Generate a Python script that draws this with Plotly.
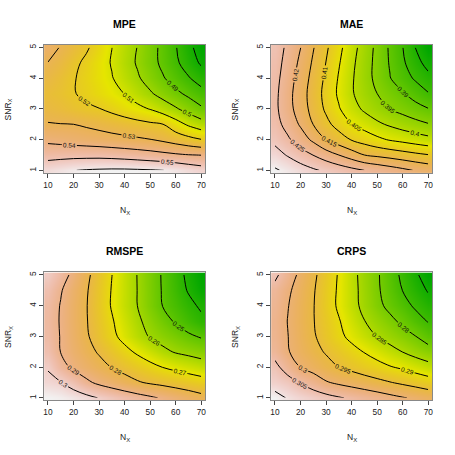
import colorsys
import numpy as np
import plotly.graph_objects as go

# ---------------- data ----------------
N_X = [10, 15, 20, 25, 30, 35, 40, 45, 50, 55, 60, 65, 70]
SNR_X = [1.0, 1.5, 2.0, 2.5, 3.0, 3.5, 4.0, 4.5, 5.0]
X_TICKS = [10, 20, 30, 40, 50, 60, 70]
Y_TICKS = [1, 2, 3, 4, 5]

MPE = [
    [.5565, .5582, .5598, .5606, .5611, .5614, .5614, .5611, .5607, .5601, .5585, .5563, .5543],
    [.5464, .5467, .5470, .5471, .5471, .5466, .5458, .5448, .5437, .5425, .5413, .5403, .5398],
    [.5378, .5369, .5359, .5350, .5341, .5331, .5322, .5313, .5303, .5283, .5257, .5230, .5203],
    [.5305, .5302, .5300, .5287, .5273, .5258, .5244, .5229, .5215, .5201, .5141, .5085, .5042],
    [.5265, .5250, .5232, .5215, .5203, .5178, .5151, .5124, .5096, .5053, .5011, .4964, .4915],
    [.5245, .5228, .5205, .5181, .5154, .5126, .5098, .5054, .5011, .4966, .4922, .4879, .4835],
    [.5270, .5238, .5207, .5173, .5139, .5105, .5059, .5012, .4961, .4908, .4858, .4808, .4755],
    [.5298, .5262, .5222, .5181, .5138, .5094, .5043, .4991, .4936, .4879, .4818, .4753, .4686],
    [.5340, .5294, .5254, .5213, .5160, .5101, .5050, .4998, .4938, .4875, .4806, .4729, .4652],
]
MAE = [
    [.4356, .4340, .4323, .4307, .4292, .4278, .4264, .4250, .4237, .4224, .4211, .4197, .4185],
    [.4320, .4296, .4272, .4249, .4224, .4200, .4175, .4150, .4140, .4131, .4121, .4111, .4102],
    [.4287, .4258, .4225, .4190, .4150, .4123, .4097, .4079, .4061, .4046, .4036, .4025, .4015],
    [.4269, .4232, .4194, .4149, .4113, .4081, .4051, .4030, .4009, .3993, .3978, .3965, .3953],
    [.4261, .4219, .4176, .4133, .4092, .4054, .4020, .3992, .3971, .3950, .3934, .3918, .3902],
    [.4262, .4217, .4173, .4128, .4085, .4042, .4005, .3977, .3950, .3927, .3904, .3879, .3853],
    [.4266, .4224, .4180, .4134, .4091, .4046, .4006, .3971, .3937, .3902, .3872, .3843, .3815],
    [.4271, .4232, .4190, .4143, .4099, .4054, .4011, .3973, .3936, .3896, .3858, .3819, .3781],
    [.4278, .4239, .4201, .4153, .4108, .4063, .4019, .3978, .3938, .3893, .3851, .3799, .3750],
]
RMSPE = [
    [.3060, .3052, .3040, .3022, .2997, .2975, .2954, .2933, .2913, .2891, .2869, .2847, .2825],
    [.3015, .3003, .2965, .2916, .2883, .2858, .2833, .2808, .2790, .2777, .2763, .2750, .2736],
    [.2995, .2930, .2884, .2855, .2826, .2797, .2772, .2747, .2723, .2698, .2680, .2663, .2645],
    [.2960, .2898, .2862, .2826, .2792, .2757, .2722, .2688, .2654, .2619, .2593, .2578, .2562],
    [.2945, .2896, .2853, .2810, .2765, .2719, .2675, .2632, .2594, .2567, .2540, .2514, .2492],
    [.2938, .2894, .2850, .2805, .2756, .2707, .2661, .2615, .2572, .2530, .2490, .2454, .2418],
    [.2943, .2896, .2850, .2804, .2749, .2694, .2647, .2600, .2548, .2497, .2460, .2422, .2387],
    [.2960, .2906, .2857, .2808, .2752, .2696, .2648, .2599, .2546, .2493, .2443, .2393, .2343],
    [.2990, .2938, .2879, .2819, .2760, .2701, .2649, .2598, .2545, .2491, .2436, .2380, .2326],
]
CRPS = [
    [.3115, .3097, .3086, .3076, .3065, .3054, .3044, .3034, .3024, .3013, .3003, .2994, .2983],
    [.3080, .3068, .3047, .3026, .3004, .2992, .2982, .2972, .2962, .2952, .2942, .2932, .2922],
    [.3062, .3030, .2999, .2983, .2966, .2950, .2938, .2926, .2915, .2903, .2893, .2880, .2867],
    [.3035, .3003, .2983, .2964, .2946, .2930, .2914, .2898, .2882, .2865, .2849, .2833, .2819],
    [.3027, .3001, .2978, .2955, .2932, .2910, .2889, .2869, .2849, .2833, .2817, .2801, .2778],
    [.3025, .2999, .2976, .2952, .2928, .2903, .2877, .2851, .2831, .2811, .2790, .2768, .2747],
    [.3030, .3002, .2977, .2952, .2923, .2893, .2866, .2838, .2812, .2788, .2766, .2743, .2720],
    [.3036, .3008, .2981, .2954, .2924, .2894, .2865, .2836, .2807, .2778, .2749, .2723, .2696],
    [.3060, .3025, .2989, .2959, .2928, .2896, .2864, .2834, .2806, .2773, .2740, .2708, .2676],
]

# contour levels (start, end, step) as labelled in the reference
LEVELS = {
    "MPE": (0.47, 0.56, 0.01),
    "MAE": (0.38, 0.435, 0.005),
    "RMSPE": (0.24, 0.30, 0.01),
    "CRPS": (0.27, 0.31, 0.005),
}

# ---------------- colours: R terrain.colors ----------------
def terrain_scale(n=64):
    k = n // 2
    h = np.concatenate([np.linspace(4 / 12, 2 / 12, k), np.linspace(2 / 12, 0, n - k + 1)[1:]])
    s = np.concatenate([np.linspace(1, 1, k), np.linspace(1, 0, n - k + 1)[1:]])
    v = np.concatenate([np.linspace(0.65, 0.9, k), np.linspace(0.9, 0.95, n - k + 1)[1:]])
    out = []
    for i in range(n):
        r, g, b = colorsys.hsv_to_rgb(h[i], s[i], v[i])
        out.append([i / (n - 1), f"rgb({round(r*255)},{round(g*255)},{round(b*255)})"])
    return out

CS = terrain_scale()
FONT = "Liberation Sans, Arial, Helvetica, sans-serif"
W = H = 455

# pixel geometry of plot regions (left, right, top, bottom)
boxes = [
    (43.3, 205.0, 44.0, 172.3),
    (271.3, 433.0, 44.0, 172.3),
    (43.3, 205.0, 272.0, 400.3),
    (271.3, 433.0, 272.0, 400.3),
]
panels = [("MPE", MPE), ("MAE", MAE), ("RMSPE", RMSPE), ("CRPS", CRPS)]

fig = go.Figure()
annotations = []
for i, ((name, z), (l, r, t, b)) in enumerate(zip(panels, boxes)):
    xa = "x" if i == 0 else f"x{i+1}"
    ya = "y" if i == 0 else f"y{i+1}"
    s0, s1, ds = LEVELS[name]
    fig.add_trace(go.Heatmap(
        x=N_X, y=SNR_X, z=z, colorscale=CS, zsmooth="best",
        showscale=False, xaxis=xa, yaxis=ya, hoverinfo="skip"))
    fig.add_trace(go.Contour(
        x=N_X, y=SNR_X, z=z, xaxis=xa, yaxis=ya, showscale=False,
        contours=dict(coloring="none", start=s0, end=s1 + ds / 2, size=ds,
                      showlabels=True, labelformat=".3~g",
                      labelfont=dict(family=FONT, size=6.5, color="#111")),
        line=dict(color="black", width=1, smoothing=1.0),
        hoverinfo="skip"))
    axx = dict(domain=[l / W, r / W], range=[8.5, 71.5], tickvals=X_TICKS,
               ticks="outside", ticklen=4, tickcolor="#444", showline=True,
               mirror=True, linecolor="#888", linewidth=1, showgrid=False,
               zeroline=False, anchor=ya,
               tickfont=dict(family=FONT, size=8.3, color="#222"))
    axy = dict(domain=[1 - b / H, 1 - t / H], range=[0.917, 5.083], tickvals=Y_TICKS,
               ticks="outside", ticklen=4, tickcolor="#444", showline=True,
               mirror=True, linecolor="#888", linewidth=1, showgrid=False,
               zeroline=False, anchor=xa, tickangle=-90,
               tickfont=dict(family=FONT, size=8.3, color="#222"))
    fig.update_layout({("xaxis" if i == 0 else f"xaxis{i+1}"): axx,
                       ("yaxis" if i == 0 else f"yaxis{i+1}"): axy})
    cx = (l + r) / 2
    oy = 0 if i < 2 else 228
    ox = 0 if i % 2 == 0 else 228
    annotations.append(dict(text=f"<b>{name}</b>", x=cx / W, y=1 - (oy + 22.7) / H,
                            xref="paper", yref="paper", showarrow=False,
                            xanchor="center", yanchor="middle",
                            font=dict(family=FONT, size=10.5, color="black")))
    annotations.append(dict(text="N<sub>X</sub>", x=cx / W, y=1 - (oy + 209.5) / H,
                            xref="paper", yref="paper", showarrow=False,
                            xanchor="center", yanchor="middle",
                            font=dict(family=FONT, size=8.5, color="#222")))
    annotations.append(dict(text="SNR<sub>X</sub>", x=(ox + 7.5) / W, y=1 - ((t + b) / 2) / H,
                            xref="paper", yref="paper", showarrow=False, textangle=-90,
                            xanchor="center", yanchor="middle",
                            font=dict(family=FONT, size=8.5, color="#222")))

fig.update_layout(width=W, height=H, margin=dict(l=0, r=0, t=0, b=0),
                  paper_bgcolor="white", plot_bgcolor="white",
                  showlegend=False, annotations=annotations)
fig.write_html("out.html", config={"displayModeBar": False},
               post_script="document.body.style.margin='0';document.body.style.overflow='hidden';")
